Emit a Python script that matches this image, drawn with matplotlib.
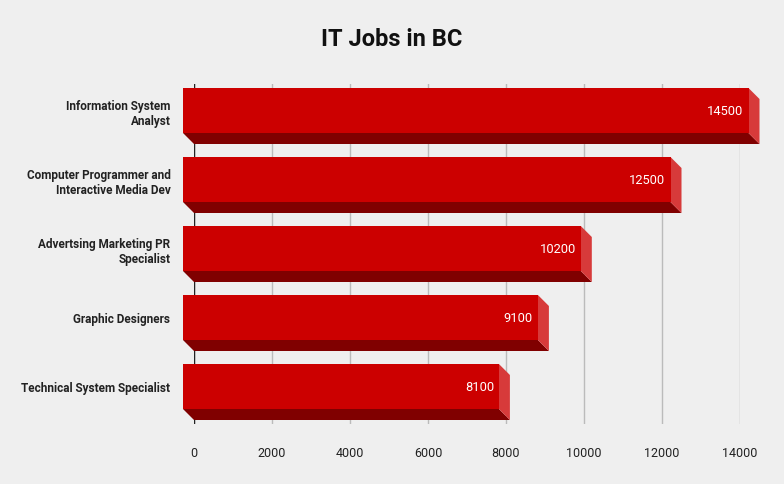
import matplotlib.pyplot as plt
from matplotlib.patches import Polygon

plt.rcParams['font.family'] = ['Roboto', 'DejaVu Sans']

# data
categories = ['Information System\nAnalyst',
              'Computer Programmer and\nInteractive Media Dev',
              'Advertsing Marketing PR\nSpecialist',
              'Graphic Designers',
              'Technical System Specialist']
jobs = [14500, 12500, 10200, 9100, 8100]
x_ticks = [0, 2000, 4000, 6000, 8000, 10000, 12000, 14000]

bg = '#efefef'
front_col = '#cc0000'
bottom_col = '#800000'
side_col = '#d73a3a'

W, H = 784, 485
fig = plt.figure(figsize=(W / 100, H / 100), dpi=100, facecolor=bg)

# axes placed so that 0 -> 194px, 14000 -> 740px, top 85px, bottom 425px
ax_l, ax_r, ax_t, ax_b = 194, 740, 85, 425
ax = fig.add_axes([ax_l / W, 1 - ax_b / H, (ax_r - ax_l) / W, (ax_b - ax_t) / H])
ax.set_facecolor(bg)

px_x = (ax_r - ax_l) / 14000   # pixels per unit
px_y = 69                       # pixels per category
ax.set_xlim(0, 14000)
ax.set_ylim((ax_b - 111.5) / px_y, (ax_t - 111.5) / px_y)

# depth of the 3d effect
dx = 11 / px_x
dy = 11 / px_y
h = 45 / px_y

for i, v in enumerate(jobs):
    top, bot = i - h / 2, i + h / 2
    bottom = Polygon([(-dx, bot), (v - dx, bot), (v, bot + dy), (0, bot + dy)],
                     closed=True, facecolor=bottom_col, edgecolor='none',
                     clip_on=False, zorder=3)
    side = Polygon([(v - dx, top), (v, top + dy), (v, bot + dy), (v - dx, bot)],
                   closed=True, facecolor=side_col, edgecolor='none',
                   clip_on=False, zorder=3)
    front = Polygon([(-dx, top), (v - dx, top), (v - dx, bot), (-dx, bot)],
                    closed=True, facecolor=front_col, edgecolor='none',
                    clip_on=False, zorder=4)
    ax.add_patch(bottom)
    ax.add_patch(side)
    ax.add_patch(front)
    ax.text(v - dx - 5 / px_x, i, str(v), color='white', fontsize=9.3,
            ha='right', va='center', zorder=5)

ax.set_xticks(x_ticks)
ax.set_xticklabels([str(t) for t in x_ticks])
ax.set_yticks(range(len(categories)))
ax.set_yticklabels(categories, fontweight='bold', fontsize=8.5, color='#222222',
                   ha='right', multialignment='right', linespacing=1.25)
ax.tick_params(axis='y', length=0, pad=17)
ax.tick_params(axis='x', length=0, pad=16, labelsize=9, labelcolor='#222222')
ax.grid(axis='x', color='#bbbbbb', linewidth=1, zorder=0)
ax.set_axisbelow(True)
for s in ax.spines.values():
    s.set_visible(False)
ax.axvline(0, color='#222222', linewidth=1, zorder=1)

fig.text(392 / W, 1 - 39 / H, 'IT Jobs in BC', fontsize=17, fontweight='bold',
         ha='center', va='center', color='#111111')

fig.savefig('out.png', dpi=100, facecolor=bg)
